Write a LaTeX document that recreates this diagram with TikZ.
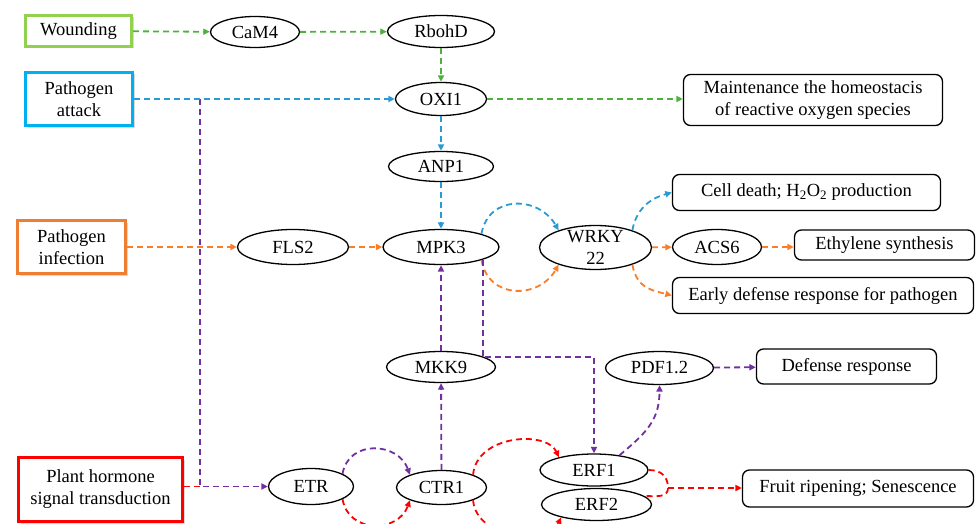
\documentclass[tikz,border=0pt]{standalone}
\usepackage{fontspec}
\setmainfont{Liberation Serif}
\usetikzlibrary{shapes.geometric,arrows.meta,shadows}
\newcommand\myfs{\fontsize{18.5pt}{22pt}\selectfont}
\definecolor{cgreen}{RGB}{77,178,60}
\definecolor{cgreenbox}{RGB}{146,208,80}
\definecolor{cblue}{RGB}{40,155,215}
\definecolor{cbluebox}{RGB}{0,176,240}
\definecolor{corange}{RGB}{250,125,40}
\definecolor{corangebox}{RGB}{240,125,50}
\definecolor{cred}{RGB}{255,0,0}
\definecolor{cpurple}{RGB}{112,48,160}
\begin{document}
\begin{tikzpicture}[x=1pt,y=-1pt,
  every node/.style={font=\myfs},
  ell/.style={ellipse,draw,line width=1.3pt,inner sep=0pt,fill=white},
  srcbox/.style={rectangle,draw,line width=3pt,inner sep=0pt,align=center,fill=white,
    drop shadow={opacity=0.3,shadow xshift=2pt,shadow yshift=-2pt}},
  outbox/.style={rectangle,rounded corners=7pt,draw,line width=1.3pt,inner sep=0pt,align=center,fill=white},
  link/.style={line width=1.8pt,dash pattern=on 6pt off 4pt},
  arr/.style={link,-{Triangle[length=6.5pt,width=6pt]}},
]
\useasboundingbox (0,0) rectangle (976,524);

% source boxes
\node[srcbox,draw=cgreenbox,minimum width=106pt,minimum height=31pt] (wound) at (78.5,31) {Wounding};
\node[srcbox,draw=cbluebox,minimum width=107pt,minimum height=53pt] (patt) at (79,99) {Pathogen\\attack};
\node[srcbox,draw=corangebox,minimum width=108pt,minimum height=53pt] (pinf) at (71.5,247) {Pathogen\\infection};
\node[srcbox,draw=cred,minimum width=164pt,minimum height=64pt] (plant) at (100.5,489.5) {Plant hormone\\signal transduction};

% ellipses
\node[ell,minimum width=89pt,minimum height=31pt] (cam) at (255,32) {CaM4};
\node[ell,minimum width=107pt,minimum height=32pt] (rboh) at (441,31.5) {RbohD};
\node[ell,minimum width=91pt,minimum height=33pt] (oxi) at (441,99) {OXI1};
\node[ell,minimum width=105pt,minimum height=30pt] (anp) at (441,166.5) {ANP1};
\node[ell,minimum width=116pt,minimum height=35pt] (mpk) at (441,247) {MPK3};
\node[ell,minimum width=111pt,minimum height=35pt] (fls) at (293,247) {FLS2};
\node[ell,minimum width=112pt,minimum height=44pt,inner ysep=-10pt,align=center] (wrky) at (595.5,247.5) {WRKY\\22};
\node[ell,minimum width=89pt,minimum height=35pt] (acs) at (717,247) {ACS6};
\node[ell,minimum width=109pt,minimum height=31pt] (mkk) at (441,367) {MKK9};
\node[ell,minimum width=108pt,minimum height=33pt] (pdf) at (659.5,368) {PDF1.2};
\node[ell,minimum width=85pt,minimum height=36pt] (etr) at (311,486.5) {ETR};
\node[ell,minimum width=90pt,minimum height=34pt] (ctr) at (441.5,487.5) {CTR1};
\node[ell,minimum width=108pt,minimum height=32pt] (erfa) at (594,470) {ERF1};
\node[ell,minimum width=110pt,minimum height=32pt] (erfb) at (596.5,504.5) {ERF2};

% outcome boxes
\node[outbox,minimum width=259pt,minimum height=51pt] (maint) at (813,100) {Maintenance the homeostacis\\of reactive oxygen species};
\node[outbox,minimum width=268pt,minimum height=36pt] (death) at (806.5,192.5) {Cell death; H\textsubscript{2}O\textsubscript{2} production};
\node[outbox,minimum width=180pt,minimum height=30pt] (eth) at (884.5,245) {Ethylene synthesis};
\node[outbox,minimum width=301pt,minimum height=36pt] (early) at (823,295.5) {Early defense response for pathogen};
\node[outbox,minimum width=180pt,minimum height=35pt] (def) at (846.5,366.5) {Defense response};
\node[outbox,minimum width=231pt,minimum height=37pt] (fruit) at (858,488.5) {Fruit ripening; Senescence};

\coordinate (j1) at (200,99);
\coordinate (j2) at (200,486.5);
\coordinate (j3) at (668,488);
\coordinate (k) at (0,357);

% green
\draw[arr,cgreen] (wound) -- (cam);
\draw[arr,cgreen] (cam) -- (rboh);
\draw[arr,cgreen] (rboh) -- (oxi);
\draw[arr,cgreen] (oxi.east) -- (oxi.east -| maint.west);

% left purple and red
\draw[link,cred] (plant.east |- j2) -- (j2);
\draw[arr,cpurple] (j1) -- (j2) -- (etr.west);

% blue
\draw[arr,cblue] (patt) -- (oxi);
\draw[arr,cblue] (oxi) -- (anp);
\draw[arr,cblue] (anp) -- (mpk);
\draw[arr,cblue] (mpk.18) .. controls +(80:40pt) and +(120:40pt) .. (wrky.155);
\draw[arr,cblue] (wrky.25) .. controls +(80:25pt) and +(195:18pt) .. (death.west);

% orange
\draw[arr,corange] (pinf) -- (fls);
\draw[arr,corange] (fls) -- (mpk);
\draw[arr,corange] (mpk.-18) .. controls +(-80:40pt) and +(-120:40pt) .. (wrky.-155);
\draw[arr,corange] (wrky) -- (acs);
\draw[arr,corange] (acs.east) -- (acs.east -| eth.west);
\draw[arr,corange] (wrky.-25) .. controls +(-80:25pt) and +(165:18pt) .. (early.west);

% purple
\draw[arr,cpurple] (etr.22) .. controls +(80:35pt) and +(110:35pt) .. (ctr.158);
\draw[arr,cpurple] (ctr) -- (mkk);
\draw[arr,cpurple] (mkk) -- (mpk);
\draw[arr,cpurple] (mpk.-17) -- (mpk.-17 |- k) -| (erfa.north);
\draw[arr,cpurple] (erfa.30) .. controls +(40:35pt) and +(-90:35pt) .. (pdf.south);
\draw[arr,cpurple] (pdf) -- (def);

% red
\draw[arr,cred] (etr.-22) .. controls +(-80:35pt) and +(-110:35pt) .. (ctr.-158);
\draw[arr,cred] (ctr.22) .. controls +(85:40pt) and +(115:30pt) .. (erfa.160);
\draw[arr,cred] (ctr.-22) .. controls +(-85:40pt) and +(-115:30pt) .. (erfb.-160);
\draw[link,cred] (erfa.east) .. controls +(0:14pt) and +(90:10pt) .. (j3) .. controls +(-90:10pt) and +(0:12pt) .. (erfb.10);
\draw[arr,cred] (j3) -- (j3 -| fruit.west);
\end{tikzpicture}
\end{document}
